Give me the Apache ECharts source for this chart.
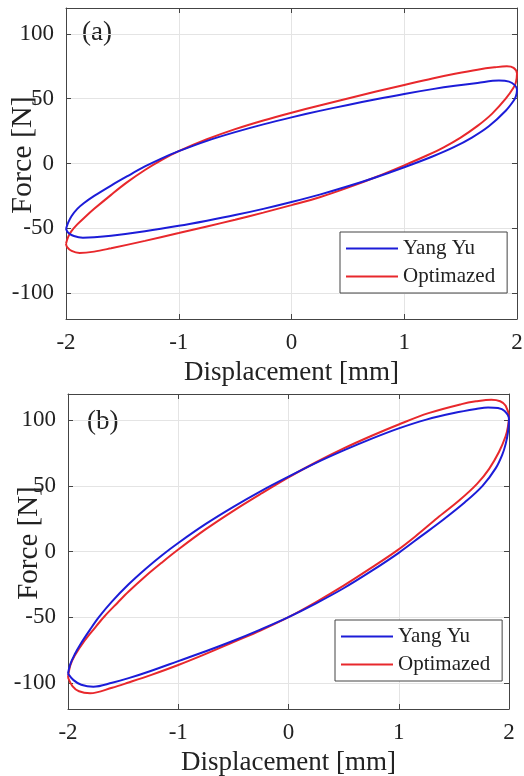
<!DOCTYPE html>
<html>
<head>
<meta charset="utf-8">
<title>Force - Displacement</title>
<script src="https://cdn.jsdelivr.net/npm/echarts@6/dist/echarts.min.js"></script>
<style>
  html, body { margin: 0; padding: 0; background: #fff; }
  #chart { width: 524px; height: 776px; }
</style>
</head>
<body>
<div id="chart"></div>
<script>
var xTicks = [-2, -1, 0, 1, 2]
var yTicks = [-100, -50, 0, 50, 100]
var seriesNames = ['Yang Yu', 'Optimazed']

// (a) loops: [displacement mm, force N]
var aYangYu = [
  [-2.00, -50.5], [-1.98, -45.5], [-1.95, -40.5], [-1.90, -35], [-1.84, -30.5],
  [-1.75, -25], [-1.60, -17], [-1.46, -10], [-1.30, -2.3], [-1.15, 4],
  [-1.00, 9.5], [-0.75, 17.5], [-0.50, 24.2], [-0.25, 30.2], [0.00, 35.6],
  [0.25, 40.6], [0.50, 45.2], [0.75, 49.6], [1.00, 53.7], [1.25, 57.4],
  [1.45, 60], [1.65, 62.2], [1.84, 64], [1.93, 63.2], [1.98, 60.5], [2.00, 57],
  [1.99, 51.8], [1.97, 48.4], [1.90, 40.7], [1.75, 28.7], [1.60, 20],
  [1.44, 12.6], [1.25, 5.4], [1.00, -2.9], [0.75, -10.6], [0.50, -17.6],
  [0.25, -24], [0.00, -29.7], [-0.25, -35], [-0.50, -39.8], [-0.75, -44.1],
  [-1.00, -48.1], [-1.30, -52.3], [-1.60, -55.8], [-1.75, -57], [-1.85, -57.3],
  [-1.93, -56], [-1.98, -53.5], [-2.00, -50.5]
]
var aOptimazed = [
  [-2.00, -62], [-1.98, -56.5], [-1.95, -52], [-1.90, -47], [-1.84, -42],
  [-1.75, -35], [-1.60, -24.2], [-1.46, -14.6], [-1.30, -5], [-1.15, 2.8],
  [-1.00, 9.5], [-0.75, 18.7], [-0.50, 26.5], [-0.25, 33.2], [0.00, 39.2],
  [0.25, 44.8], [0.50, 50.2], [0.75, 55.5], [1.00, 60.6], [1.25, 65.6],
  [1.45, 69.2], [1.65, 72.4], [1.80, 74.2], [1.91, 75], [1.97, 73.8], [2.00, 69.5],
  [1.99, 62.6], [1.97, 58.6], [1.90, 50], [1.78, 38.5], [1.65, 29],
  [1.50, 20], [1.35, 12.5], [1.20, 6.2], [1.00, -1.4], [0.75, -10.4],
  [0.50, -18.6], [0.25, -26], [0.00, -32.1], [-0.25, -37.9], [-0.50, -43.4],
  [-0.75, -48.6], [-1.00, -53.7], [-1.30, -59.7], [-1.60, -65.4], [-1.75, -68],
  [-1.88, -69], [-1.95, -67.5], [-1.99, -64.5], [-2.00, -62]
]

// (b) loops
var bYangYu = [
  [-2.00, -93], [-1.98, -86], [-1.94, -78.5], [-1.89, -71], [-1.80, -59.5],
  [-1.72, -50], [-1.60, -38], [-1.45, -25], [-1.30, -13.5], [-1.15, -3],
  [-1.00, 6.5], [-0.75, 21], [-0.50, 34], [-0.25, 46], [0.00, 57],
  [0.25, 67.5], [0.50, 77], [0.75, 85.8], [1.00, 93.8], [1.25, 100.5],
  [1.50, 105.5], [1.70, 108.6], [1.81, 109.8], [1.90, 109.3], [1.96, 107], [2.00, 101],
  [1.99, 90.5], [1.97, 82], [1.94, 74], [1.88, 63.5], [1.76, 50],
  [1.60, 37.5], [1.40, 24], [1.20, 11.5], [1.00, -1], [0.75, -15],
  [0.50, -28], [0.25, -39.5], [0.00, -50], [-0.25, -59.3], [-0.50, -68],
  [-0.75, -76], [-1.00, -83.5], [-1.25, -91], [-1.45, -96.5], [-1.60, -100],
  [-1.77, -103], [-1.88, -101.5], [-1.95, -98], [-2.00, -93]
]
var bOptimazed = [
  [-2.00, -96], [-1.98, -87], [-1.94, -79.5], [-1.85, -68], [-1.76, -58.5],
  [-1.67, -49.5], [-1.55, -39], [-1.45, -30.5], [-1.30, -19], [-1.15, -8.5],
  [-1.00, 1.5], [-0.75, 17], [-0.50, 31], [-0.25, 44], [0.00, 56.5],
  [0.25, 68], [0.50, 78.5], [0.75, 88], [1.00, 96.8], [1.27, 105.4],
  [1.57, 112.3], [1.70, 114.4], [1.84, 115.7], [1.92, 114.5], [1.97, 111], [2.00, 102],
  [1.99, 95], [1.97, 88], [1.91, 76], [1.82, 63], [1.71, 51.5],
  [1.55, 39], [1.35, 25.5], [1.15, 11.5], [0.98, 0.5], [0.75, -12.5],
  [0.50, -26], [0.25, -38.5], [0.00, -50], [-0.25, -60], [-0.50, -69],
  [-0.75, -78], [-1.00, -86.5], [-1.25, -94.2], [-1.45, -99.8], [-1.60, -103.8],
  [-1.80, -108], [-1.90, -106.5], [-1.96, -102.5], [-2.00, -96]
]

var serif = 'Liberation Serif'
var frameColor = '#444'
var gridColor = '#e4e4e4'
var blue = '#1c1cd8'
var red = '#e8282c'

function xAxisFor(gridIndex, position) {
  var main = position === 'bottom'
  return {
    type: 'value',
    gridIndex: gridIndex,
    position: position,
    min: -2,
    max: 2,
    interval: 1,
    name: main ? 'Displacement [mm]' : '',
    nameLocation: 'middle',
    nameGap: 40,
    nameMoveOverlap: false,
    nameTextStyle: { fontFamily: serif, fontSize: 27, color: '#222' },
    axisLine: { show: true, onZero: false, lineStyle: { color: frameColor, width: 1 } },
    axisTick: { show: true, inside: true, length: 5, lineStyle: { color: frameColor } },
    axisLabel: {
      show: main,
      margin: 12,
      fontFamily: serif,
      fontSize: 23,
      color: '#222',
      showMinLabel: true,
      showMaxLabel: true,
      formatter: function (v) { return xTicks.indexOf(v) >= 0 ? String(v) : '' }
    },
    splitLine: { show: main, lineStyle: { color: gridColor, width: 1 } }
  }
}

function yAxisFor(gridIndex, position, nameGap, nameSize) {
  var main = position === 'left'
  return {
    type: 'value',
    gridIndex: gridIndex,
    position: position,
    min: -120,
    max: 120,
    name: main ? 'Force [N]' : '',
    nameLocation: 'middle',
    nameGap: nameGap,
    nameMoveOverlap: false,
    nameTextStyle: { fontFamily: serif, fontSize: nameSize, color: '#222', padding: [0, 0, 0, 17] },
    axisLine: { show: true, onZero: false, lineStyle: { color: frameColor, width: 1 } },
    axisTick: { show: true, inside: true, length: 5, customValues: yTicks, lineStyle: { color: frameColor } },
    axisLabel: {
      show: main,
      margin: 12,
      fontFamily: serif,
      fontSize: 23,
      color: '#222',
      customValues: yTicks
    },
    splitLine: { show: main, lineStyle: { color: gridColor, width: 1 } }
  }
}

function loop(name, data, color, xi, yi) {
  return {
    name: name,
    type: 'line',
    data: data,
    xAxisIndex: xi,
    yAxisIndex: yi,
    symbol: 'none',
    smooth: 0.35,
    lineStyle: { color: color, width: 2 },
    itemStyle: { color: color },
    z: name === 'Optimazed' ? 3 : 4,
    animation: false
  }
}

function legendAt(left, top) {
  return {
    data: seriesNames,
    orient: 'vertical',
    left: left,
    top: top,
    icon: 'rect',
    itemWidth: 52,
    itemHeight: 2,
    itemGap: 7,
    padding: [6, 12, 6, 6],
    backgroundColor: '#fff',
    borderColor: frameColor,
    borderWidth: 1,
    borderRadius: 0,
    selectedMode: false,
    textStyle: { fontFamily: serif, fontSize: 21, color: '#222', lineHeight: 20 }
  }
}

var chart = echarts.init(document.getElementById('chart'))
chart.setOption({
  backgroundColor: '#fff',
  animation: false,
  grid: [
    { left: 66, top: 8, width: 451, height: 311, outerBoundsMode: 'none' },
    { left: 68, top: 394, width: 441, height: 315, outerBoundsMode: 'none' }
  ],
  xAxis: [
    xAxisFor(0, 'bottom'), xAxisFor(0, 'top'),
    xAxisFor(1, 'bottom'), xAxisFor(1, 'top')
  ],
  yAxis: [
    yAxisFor(0, 'left', 28, 30), yAxisFor(0, 'right', 28, 30),
    yAxisFor(1, 'left', 24, 29), yAxisFor(1, 'right', 24, 29)
  ],
  legend: [legendAt(340, 232), legendAt(335, 620)],
  graphic: [
    { type: 'text', left: 82, top: 19, style: { text: '(a)', fontFamily: serif, fontSize: 27, fill: '#222' } },
    { type: 'text', left: 87, top: 408, style: { text: '(b)', fontFamily: serif, fontSize: 27, fill: '#222' } }
  ],
  series: [
    loop('Yang Yu', aYangYu, blue, 0, 0),
    loop('Optimazed', aOptimazed, red, 0, 0),
    loop('Yang Yu', bYangYu, blue, 2, 2),
    loop('Optimazed', bOptimazed, red, 2, 2)
  ]
})
</script>
</body>
</html>
